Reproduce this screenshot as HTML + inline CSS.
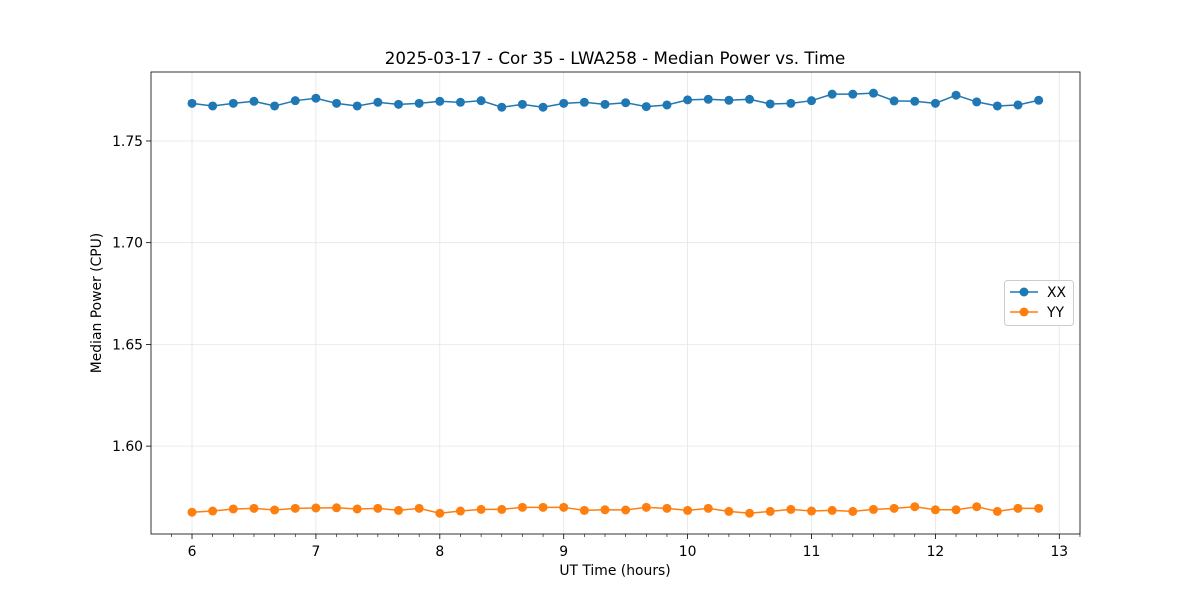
<!DOCTYPE html>
<html><head><meta charset="utf-8"><style>
body{margin:0;background:#fff;}
svg{font-family:"DejaVu Sans","Liberation Sans",sans-serif;}
</style></head><body>
<svg id="chart" width="1200" height="600">
<rect width="1200" height="600" fill="#fff"/>
<text x="615" y="64" font-size="16.7" text-anchor="middle">2025-03-17 - Cor 35 - LWA258 - Median Power vs. Time</text>
<g id="grid"></g><g id="axes"></g><g id="series"></g>
<text x="615" y="575" font-size="13.9" text-anchor="middle">UT Time (hours)</text>
<text transform="translate(101,303) rotate(-90)" font-size="13.9" text-anchor="middle">Median Power (CPU)</text>
<g>
<rect x="1004.5" y="280.5" width="69" height="45" rx="3" fill="#fff" stroke="#ccc"/>
<g><line x1="1010" y1="292" x2="1038" y2="292" stroke="#1f77b4" stroke-width="1.5"/><circle cx="1024" cy="292" r="4.5" fill="#1f77b4"/><text x="1047" y="297" font-size="13.9">XX</text></g>
<g><line x1="1010" y1="312" x2="1038" y2="312" stroke="#ff7f0e" stroke-width="1.5"/><circle cx="1024" cy="312" r="4.5" fill="#ff7f0e"/><text x="1047" y="317" font-size="13.9">YY</text></g>
</g>
</svg>
<script>
const times = Array.from({length:42},(_,i)=>6+i/6);
const xxValues = [1.7685,1.7672,1.7685,1.7695,1.7672,1.7698,1.7710,1.7685,1.7672,1.7690,1.7680,1.7685,1.7695,1.7690,1.7698,1.7666,1.7680,1.7666,1.7685,1.7690,1.7680,1.7688,1.7669,1.7677,1.7702,1.7705,1.7700,1.7705,1.7682,1.7685,1.7698,1.7730,1.7730,1.7735,1.7697,1.7695,1.7685,1.7725,1.7692,1.7672,1.7677,1.7700];
const yyValues = [1.5675,1.5681,1.5691,1.5694,1.5686,1.5694,1.5696,1.5697,1.5691,1.5694,1.5684,1.5694,1.5670,1.5681,1.5689,1.5689,1.5699,1.5699,1.5699,1.5684,1.5687,1.5686,1.5699,1.5694,1.5684,1.5694,1.5679,1.5670,1.5679,1.5689,1.5681,1.5684,1.5679,1.5689,1.5694,1.5702,1.5687,1.5687,1.5702,1.5679,1.5694,1.5694];
const xTicks = [6,7,8,9,10,11,12,13];
const yTicks = [1.60,1.65,1.70,1.75];
const L=151,R=1080,T=72,B=534;
const xMin=5.669,xMax=13.167,yMin=1.5568,yMax=1.7839;
const X=v=>L+(v-xMin)/(xMax-xMin)*(R-L);
const Y=v=>B-(v-yMin)/(yMax-yMin)*(B-T);
const NS='http://www.w3.org/2000/svg';
function mk(tag,attrs,parent){const e=document.createElementNS(NS,tag);for(const k in attrs)e.setAttribute(k,attrs[k]);parent.appendChild(e);return e;}
const grid=document.getElementById('grid'),axes=document.getElementById('axes'),ser=document.getElementById('series');
xTicks.forEach(t=>{
  const g=mk('line',{x1:X(t),x2:X(t),y1:T,y2:B,stroke:'#e5e5e5','stroke-width':0.8},grid);
  
  
  mk('line',{x1:X(t),x2:X(t),y1:B,y2:B+5,stroke:'#000','stroke-width':0.8},axes);
  const tx=mk('text',{x:X(t),y:B+22,'font-size':13.9,'text-anchor':'middle'},axes);tx.textContent=t;
  
  
});
for(let m=Math.ceil((xMin)*6-0.01);m/6<=xMax;m++){if(m%6)mk('line',{x1:X(m/6),x2:X(m/6),y1:B,y2:B+3,stroke:'#000','stroke-width':0.6},axes);}
yTicks.forEach(t=>{
  const g=mk('line',{x1:L,x2:R,y1:Y(t),y2:Y(t),stroke:'#e5e5e5','stroke-width':0.8},grid);
  
  
  mk('line',{x1:L-5,x2:L,y1:Y(t),y2:Y(t),stroke:'#000','stroke-width':0.8},axes);
  const tx=mk('text',{x:L-8,y:Y(t)+5,'font-size':13.9,'text-anchor':'end'},axes);tx.textContent=t.toFixed(2);
  
  
});
const fr=mk('rect',{x:L,y:T,width:R-L,height:B-T,fill:'none',stroke:'#000','stroke-width':0.8},axes);


[[xxValues,'#1f77b4','xx'],[yyValues,'#ff7f0e','yy']].forEach(([vals,c,n])=>{
  const p=mk('polyline',{points:vals.map((v,i)=>X(times[i])+','+Y(v)).join(' '),fill:'none',stroke:c,'stroke-width':1.5},ser);
  
  
  vals.forEach((v,i)=>{
    const c2=mk('circle',{cx:X(times[i]),cy:Y(v),r:4.5,fill:c},ser);
    
    
  });
});
</script>
</body></html>
